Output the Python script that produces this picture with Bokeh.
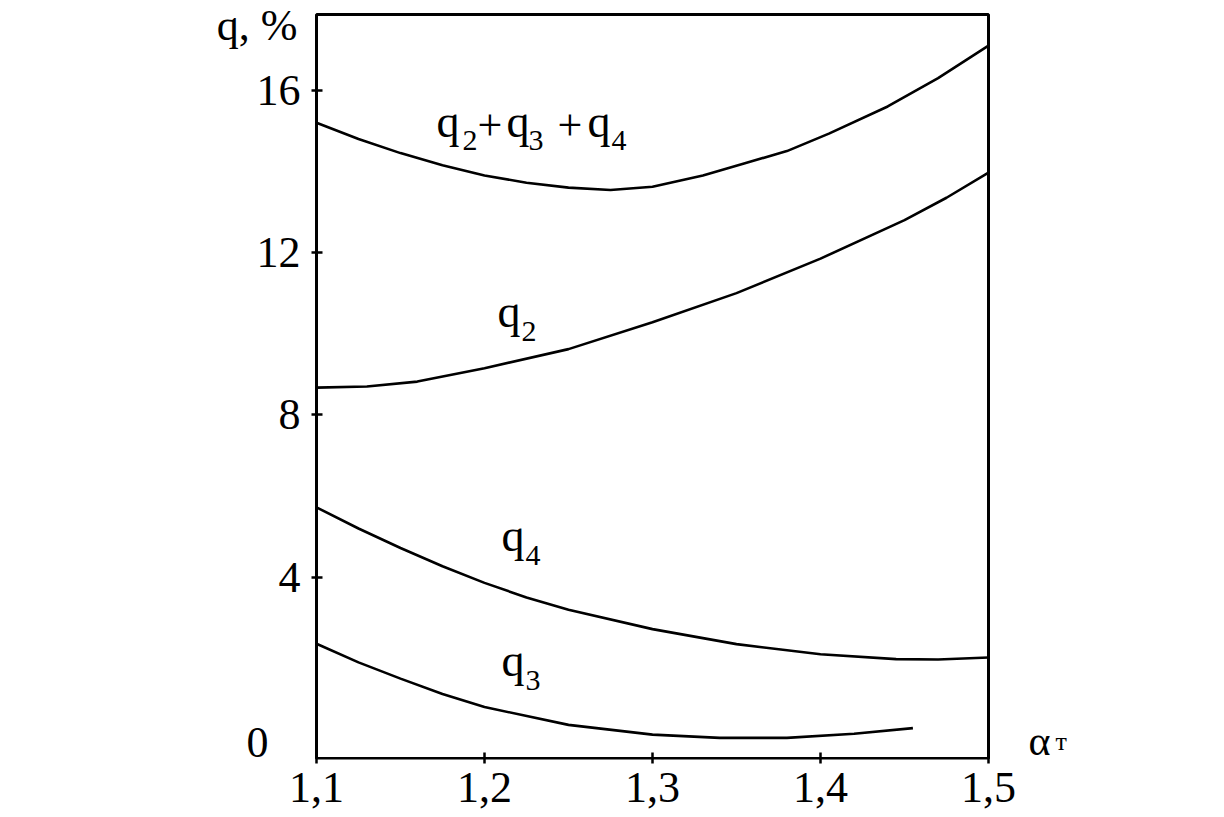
from bokeh.plotting import figure
from bokeh.models import Range1d, FixedTicker, CustomJSTickFormatter, Label
from bokeh.embed import file_html
from bokeh.resources import INLINE

# ---- data ----
x_ticks = [1.1, 1.2, 1.3, 1.4, 1.5]
y_ticks = [4, 8, 12, 16]
box_x = (1.1, 1.5)
box_y = (-0.468, 17.866)

sum_x = [1.10, 1.125, 1.15, 1.175, 1.20, 1.225, 1.25, 1.275, 1.30, 1.33, 1.355, 1.38, 1.405, 1.44, 1.47, 1.50]
sum_y = [15.2, 14.8, 14.45, 14.15, 13.9, 13.72, 13.6, 13.54, 13.62, 13.9, 14.2, 14.5, 14.93, 15.6, 16.3, 17.1]

q2_x = [1.10, 1.13, 1.16, 1.20, 1.25, 1.30, 1.35, 1.40, 1.45, 1.475, 1.50]
q2_y = [8.67, 8.70, 8.82, 9.15, 9.62, 10.28, 11.0, 11.85, 12.8, 13.35, 13.97]

q4_x = [1.10, 1.125, 1.15, 1.175, 1.20, 1.225, 1.25, 1.30, 1.35, 1.40, 1.445, 1.47, 1.50]
q4_y = [5.72, 5.2, 4.72, 4.27, 3.86, 3.5, 3.2, 2.72, 2.35, 2.1, 1.98, 1.97, 2.02]

q3_x = [1.10, 1.125, 1.15, 1.175, 1.20, 1.25, 1.30, 1.34, 1.38, 1.42, 1.455]
q3_y = [2.36, 1.9, 1.5, 1.12, 0.8, 0.36, 0.12, 0.04, 0.04, 0.14, 0.28]

FONT = "Liberation Serif"

# ---- layout: frame wider/taller than the drawn box so that the texts fit inside it ----
PX_X, PX_Y = 1680.0, 40.58          # pixels per data unit
FL, FT, FW, FH = 80, 0, 1040, 759   # frame left/top/width/height (px)
BOX_LEFT_PX, ZERO_PX = 316, 739
x_lo = box_x[0] - (BOX_LEFT_PX - FL) / PX_X
x_hi = x_lo + FW / PX_X
y_hi = (ZERO_PX - FT) / PX_Y
y_lo = y_hi - FH / PX_Y

p = figure(frame_width=FW, frame_height=FH,
           x_range=Range1d(x_lo, x_hi), y_range=Range1d(y_lo, y_hi),
           output_backend="svg", toolbar_location=None,
           min_border_left=FL, min_border_top=FT, min_border_right=0,
           min_border_bottom=58)
p.background_fill_color = "white"
p.border_fill_color = "white"
p.grid.visible = False
p.outline_line_color = None

for ax in (p.xaxis[0], p.yaxis[0]):
    ax.axis_line_color = None
    ax.major_tick_line_width = 2.5
    ax.major_tick_line_color = "black"
    ax.minor_tick_line_color = None
    ax.major_label_text_font = FONT
    ax.major_label_text_font_size = "44px"
    ax.major_label_text_color = "black"

p.xaxis.ticker = FixedTicker(ticks=x_ticks)
p.xaxis.formatter = CustomJSTickFormatter(code="return tick.toFixed(1).replace('.', ',');")
p.xaxis.major_tick_in = 7
p.xaxis.major_tick_out = 4
p.xaxis.major_label_standoff = 9
p.yaxis.ticker = FixedTicker(ticks=y_ticks)
p.yaxis.major_tick_in = 6
p.yaxis.major_tick_out = 5
p.yaxis.major_label_standoff = 11
p.yaxis.fixed_location = box_x[0]

# the box around the plot
p.quad(left=[box_x[0]], right=[box_x[1]], bottom=[box_y[0]], top=[box_y[1]],
       fill_color=None, line_color="black", line_width=3)

for xs, ys in ((sum_x, sum_y), (q2_x, q2_y), (q4_x, q4_y), (q3_x, q3_y)):
    p.line(xs, ys, line_color="black", line_width=2.6)

LIFT = 15  # Bokeh places the label baseline lower than the nominal point


def put(x, y, text, size, dx=0, dy=0, align="left"):
    p.add_layout(Label(x=x, y=y, text=text, x_offset=dx, y_offset=LIFT - dy,
                       text_font=FONT, text_font_size=f"{size}px",
                       text_color="black", text_align=align,
                       text_baseline="alphabetic"))


# zero label on the y axis (no tick mark there in the reference)
put(box_x[0], 0, "0", 44, dx=-70, dy=18)
# axis titles
put(box_x[0], 17.3, "q, %", 44, dx=-19, dy=3, align="right")
put(box_x[1], -0.44, "α", 42, dx=40, dy=-1)
put(box_x[1], -0.44, "т", 26, dx=67, dy=-1)

# curve labels
sum_parts = [("q", 46, 0, 0), ("2", 30, 26, 19), ("+", 44, 41, 4),
             ("q", 46, 70, 0), ("3", 30, 92, 19), ("+", 44, 121, 4),
             ("q", 46, 151, 0), ("4", 30, 175, 19)]
for t, s, dx, dy in sum_parts:
    put(1.1714, 14.85, t, s, dx, dy)

for (lx, ly, sub) in ((1.2077, 10.17, "2"), (1.2101, 4.65, "4"), (1.2101, 1.58, "3")):
    put(lx, ly, "q", 46)
    put(lx, ly, sub, 30, 24, 20)

open("out.html", "w").write(file_html(p, INLINE))
